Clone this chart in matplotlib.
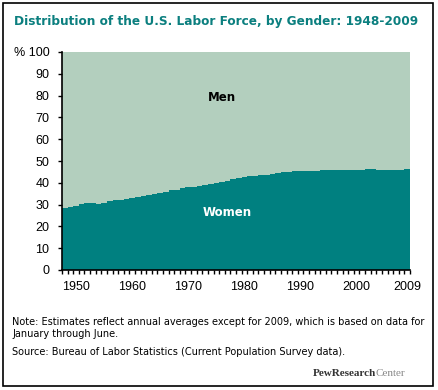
import matplotlib.pyplot as plt
from matplotlib.patches import Rectangle

# 女性在劳动力中的占比 (%), 1948-2009
years = list(range(1948, 2010))
women = [28.3, 28.8, 29.4, 30.4, 30.9, 30.6, 30.4, 30.9, 31.5, 32.0,
         32.3, 32.6, 33.2, 33.6, 33.9, 34.3, 34.7, 35.1, 35.8, 36.5,
         36.9, 37.5, 37.9, 38.0, 38.4, 38.9, 39.4, 39.9, 40.5, 41.0,
         41.6, 42.0, 42.5, 43.0, 43.3, 43.5, 43.8, 44.1, 44.5, 44.8,
         45.0, 45.2, 45.2, 45.3, 45.4, 45.5, 45.9, 46.0, 46.0, 46.1,
         46.1, 46.1, 46.1, 46.1, 46.3, 46.3, 46.0, 46.0, 46.0, 46.0,
         46.0, 46.3]
men = [100 - w for w in women]
xtick_years = [1950, 1960, 1970, 1980, 1990, 2000, 2009]
ytick_vals = list(range(0, 101, 10))
ytick_labels = [str(v) for v in ytick_vals[:-1]] + ['% 100']

teal = '#008080'
light = '#b3cfbe'

fig = plt.figure(figsize=(4.38, 3.9), dpi=100)
fig.patches.append(Rectangle((3 / 438, 4 / 390), 430 / 438, 383 / 390,
                             transform=fig.transFigure, fill=False,
                             edgecolor='black', linewidth=1.2))

ax = fig.add_axes([62 / 438, 120 / 390, 348 / 438, 218 / 390])

# 阶梯面积图, 每年一个台阶
edges = years + [years[-1] + 1]
ax.stairs(women, edges, baseline=0, fill=True, color=teal)
ax.stairs([w + m for w, m in zip(women, men)], edges, baseline=women,
          fill=True, color=light)

ax.set_xlim(1948, 2010)
ax.set_ylim(0, 100)
for s in ['top', 'right']:
    ax.spines[s].set_visible(False)
ax.spines['left'].set_linewidth(1.2)
ax.spines['bottom'].set_linewidth(1.2)

ax.set_xticks([y + 0.5 for y in xtick_years])
ax.set_xticklabels([str(y) for y in xtick_years], fontsize=9,
                   family='Liberation Sans')
ax.set_xticks([y + 0.0 for y in edges], minor=True)
ax.tick_params(axis='x', which='both', length=3, width=1, pad=8)
ax.tick_params(axis='x', which='major', length=0)
ax.set_yticks(ytick_vals)
ax.set_yticklabels(ytick_labels, fontsize=9, family='Liberation Sans')
ax.tick_params(axis='y', length=3, width=1, pad=6)

ax.text(1976.5, 79, 'Men', fontsize=8.5, fontweight='bold', color='black',
        ha='center', va='center')
ax.text(1977.5, 26.5, 'Women', fontsize=8.5, fontweight='bold', color='white',
        ha='center', va='center')

title = fig.text(14 / 438, 1 - 22 / 390,
                 'Distribution of the U.S. Labor Force, by Gender: 1948-2009',
                 fontsize=10.5, fontweight='bold', color='#0b7f7f', va='center')
# 标题宽度压到约 408 像素
r = fig.canvas.get_renderer()
w = title.get_window_extent(r).width
title.set_fontsize(10.5 * 408 / w)

fig.text(12 / 438, 1 - 328 / 390,
         'Note: Estimates reflect annual averages except for 2009, which is based on data for\nJanuary through June.',
         fontsize=7, va='center', linespacing=1.15)
fig.text(12 / 438, 1 - 352 / 390,
         'Source: Bureau of Labor Statistics (Current Population Survey data).',
         fontsize=7, va='center')

fig.text(376 / 438, 1 - 373 / 390, 'PewResearch', fontsize=8,
         family='Liberation Serif', fontweight='bold', color='#333333',
         ha='right', va='center')
fig.text(376 / 438, 1 - 373 / 390, 'Center', fontsize=8,
         family='Liberation Serif', color='#888888', ha='left', va='center')

fig.savefig('out.png', dpi=100)
